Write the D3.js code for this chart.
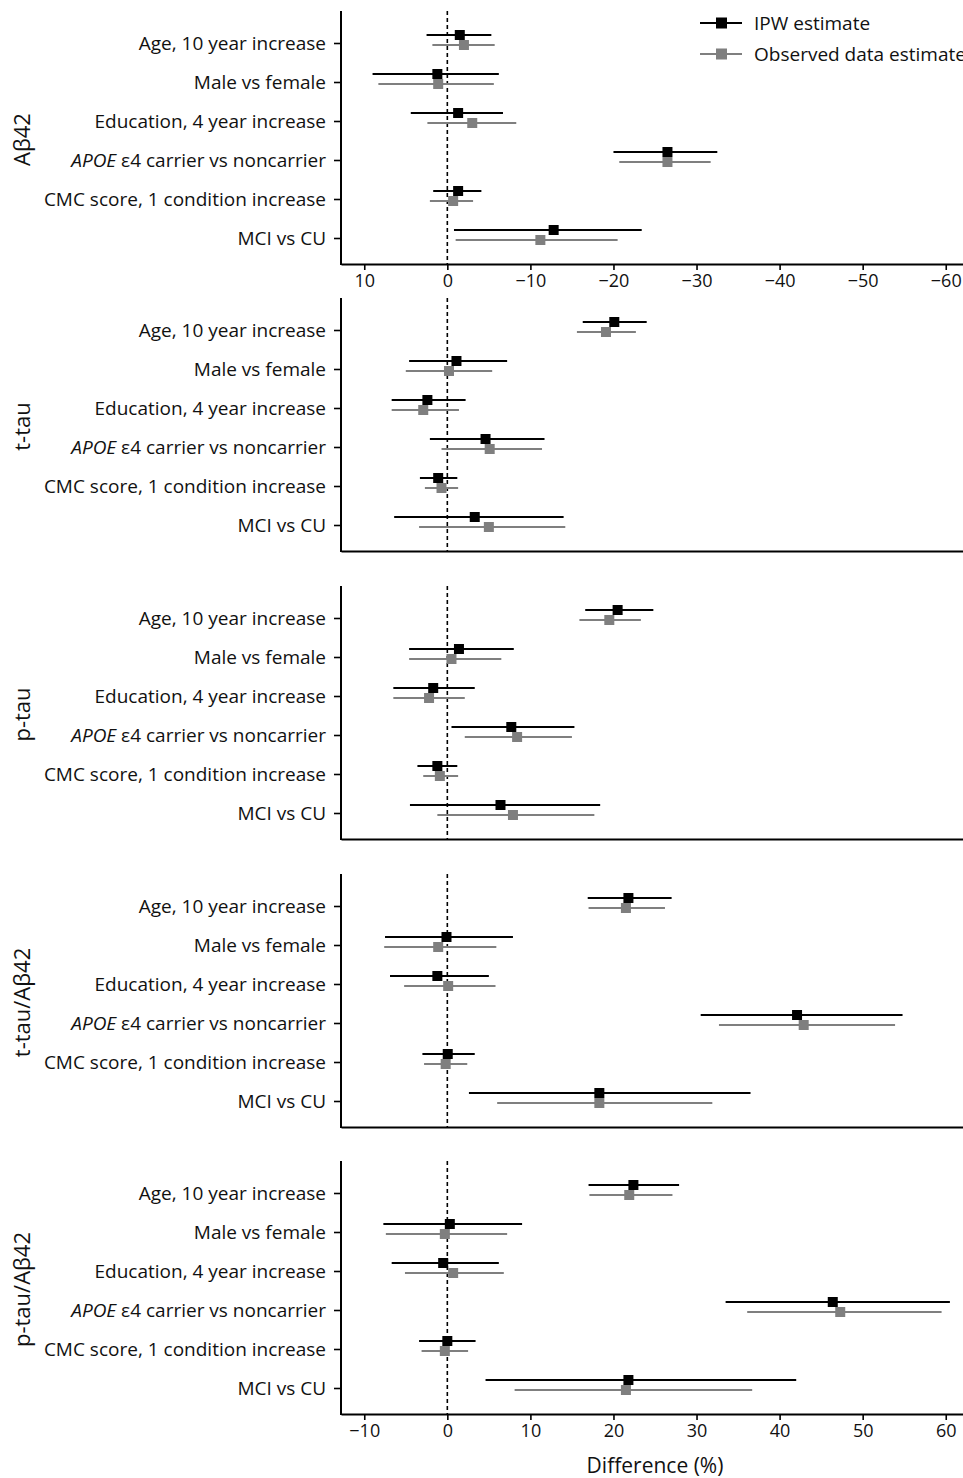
<!DOCTYPE html>
<html>
<head>
<meta charset="utf-8">
<script src="https://cdn.jsdelivr.net/npm/d3@7"></script>
<style>
  body { margin: 0; background: #fff; }
  text { font-family: "Open Sans", sans-serif; }
</style>
</head>
<body>
<div class="graph"></div>
<script>
// row labels, top to bottom
const categories = [
  "Age, 10 year increase",
  "Male vs female",
  "Education, 4 year increase",
  "APOE ε4 carrier vs noncarrier",
  "CMC score, 1 condition increase",
  "MCI vs CU"
];
const panelNames = ["Aβ42", "t-tau", "p-tau", "t-tau/Aβ42", "p-tau/Aβ42"];
const seriesNames = ["IPW estimate", "Observed data estimate"];

// [estimate, lower, upper] for each row
const ab42Ipw = [[-1.5, -5.3, 2.5], [1.2, -6.2, 9.0], [-1.3, -6.7, 4.4], [-26.5, -32.5, -20.0], [-1.3, -4.1, 1.7], [-12.8, -23.4, -0.8]];
const ab42Obs = [[-2.0, -5.7, 1.8], [1.1, -5.6, 8.3], [-3.0, -8.3, 2.4], [-26.5, -31.7, -20.7], [-0.7, -3.1, 2.1], [-11.2, -20.5, -1.0]];

const ttauIpw = [[20.1, 16.3, 24.0], [1.1, -4.6, 7.2], [-2.4, -6.7, 2.2], [4.6, -2.1, 11.7], [-1.1, -3.3, 1.2], [3.3, -6.4, 14.0]];
const ttauObs = [[19.1, 15.6, 22.7], [0.2, -5.0, 5.4], [-2.9, -6.7, 1.4], [5.1, -0.7, 11.4], [-0.7, -2.7, 1.3], [5.0, -3.4, 14.2]];

const ptauIpw = [[20.5, 16.6, 24.8], [1.4, -4.6, 8.0], [-1.7, -6.5, 3.3], [7.7, 0.5, 15.3], [-1.2, -3.6, 1.2], [6.4, -4.5, 18.4]];
const ptauObs = [[19.5, 15.9, 23.3], [0.5, -4.6, 6.5], [-2.2, -6.5, 2.1], [8.4, 2.1, 15.0], [-0.9, -2.9, 1.3], [7.9, -1.2, 17.7]];

const ttauAbIpw = [[21.8, 16.9, 27.0], [-0.1, -7.5, 7.9], [-1.2, -6.9, 5.0], [42.1, 30.5, 54.8], [0.05, -3.0, 3.3], [18.3, 2.6, 36.5]];
const ttauAbObs = [[21.5, 17.0, 26.2], [-1.1, -7.6, 5.9], [0.1, -5.2, 5.8], [42.9, 32.7, 53.9], [-0.2, -2.8, 2.4], [18.3, 6.0, 31.9]];

const ptauAbIpw = [[22.4, 17.0, 27.9], [0.3, -7.7, 9.0], [-0.5, -6.7, 6.2], [46.4, 33.5, 60.5], [0.0, -3.4, 3.4], [21.8, 4.6, 42.0]];
const ptauAbObs = [[21.9, 17.1, 27.1], [-0.3, -7.4, 7.2], [0.7, -5.1, 6.8], [47.3, 36.1, 59.5], [-0.3, -3.1, 2.5], [21.5, 8.1, 36.7]];

// tick labels: top panel (reversed) and bottom panel
const topTicks = [10, 0, -10, -20, -30, -40, -50, -60];
const bottomTicks = [-10, 0, 10, 20, 30, 40, 50, 60];

const panels = [
  { name: panelNames[0], ipw: ab42Ipw, obs: ab42Obs },
  { name: panelNames[1], ipw: ttauIpw, obs: ttauObs },
  { name: panelNames[2], ipw: ptauIpw, obs: ptauObs },
  { name: panelNames[3], ipw: ttauAbIpw, obs: ttauAbObs },
  { name: panelNames[4], ipw: ptauAbIpw, obs: ptauAbObs }
];

const width = 963, height = 1478;
const left = 341, right = 969;
const panelTops = [11, 298, 586, 874, 1161];
const panelH = 253;
const colors = ["#000000", "#7f7f7f"];

const svg = d3.select(".graph").append("svg")
  .attr("width", width)
  .attr("height", height);

// x scales: top panel runs reversed
const xNormal = d3.scaleLinear().domain([-12.8, 62.8]).range([left, right]);
const xReversed = d3.scaleLinear().domain([12.8, -62.8]).range([left, right]);

panels.forEach(function(p, i) {
  const top = panelTops[i];
  const bottom = top + panelH;
  const x = i === 0 ? xReversed : xNormal;
  const y = d3.scalePoint().domain(categories).range([top + 32, top + 227]);

  const g = svg.append("g");

  // zero reference line
  g.append("line")
    .attr("x1", x(0)).attr("x2", x(0))
    .attr("y1", top).attr("y2", bottom)
    .attr("stroke", "#000")
    .attr("stroke-width", 1.6)
    .attr("stroke-dasharray", "4,3");

  // y axis
  const yAxis = g.append("g")
    .attr("transform", "translate(" + left + ",0)")
    .call(d3.axisLeft(y).tickSize(7).tickPadding(8).tickSizeOuter(0));
  yAxis.select(".domain").remove();
  yAxis.selectAll(".tick line").attr("stroke", "#000").attr("stroke-width", 1.6);
  yAxis.selectAll(".tick text")
    .attr("font-size", 19)
    .attr("fill", "#111")
    .attr("font-family", "Open Sans, sans-serif")
    .each(function(d) {
      if (d.indexOf("APOE") === 0) {
        const t = d3.select(this).text("");
        t.append("tspan").attr("font-style", "italic").text("APOE");
        t.append("tspan").text(d.slice(4));
      }
    });

  g.append("line")
    .attr("x1", left).attr("x2", left)
    .attr("y1", top).attr("y2", bottom + 1)
    .attr("stroke", "#000")
    .attr("stroke-width", 2);

  // x axis, labelled only on the first and last panel
  let ticks = [];
  if (i === 0) ticks = topTicks;
  if (i === panels.length - 1) ticks = bottomTicks;
  const xAxis = g.append("g")
    .attr("transform", "translate(0," + bottom + ")")
    .call(d3.axisBottom(x)
      .tickValues(ticks)
      .tickSize(6).tickPadding(4).tickSizeOuter(0)
      .tickFormat(d3.format("d")));
  xAxis.select(".domain").attr("stroke", "#000").attr("stroke-width", 2);
  xAxis.selectAll(".tick line").attr("stroke", "#000").attr("stroke-width", 1.6);
  xAxis.selectAll(".tick text")
    .attr("font-size", 18)
    .attr("fill", "#111")
    .attr("font-family", "Open Sans, sans-serif");

  // panel title on the left
  g.append("text")
    .attr("transform", "translate(30," + (top + panelH / 2 + 2) + ") rotate(-90)")
    .attr("text-anchor", "middle")
    .attr("font-size", 22)
    .attr("fill", "#111")
    .text(p.name);

  // two series, IPW above the row, observed just below
  [p.ipw, p.obs].forEach(function(series, s) {
    const off = s === 0 ? -8 : 2;
    const rows = g.append("g").selectAll("g")
      .data(series)
      .enter().append("g");

    rows.append("line")
      .attr("x1", function(d) { return x(d[1]); })
      .attr("x2", function(d) { return x(d[2]); })
      .attr("y1", function(d, j) { return y(categories[j]) + off; })
      .attr("y2", function(d, j) { return y(categories[j]) + off; })
      .attr("stroke", colors[s])
      .attr("stroke-width", 2);

    rows.append("rect")
      .attr("x", function(d) { return x(d[0]) - 5; })
      .attr("y", function(d, j) { return y(categories[j]) + off - 5; })
      .attr("width", 10)
      .attr("height", 10)
      .attr("fill", colors[s]);
  });
});

// x axis title
svg.append("text")
  .attr("x", (left + right) / 2)
  .attr("y", 1473)
  .attr("text-anchor", "middle")
  .attr("font-size", 21)
  .attr("fill", "#111")
  .text("Difference (%)");

// legend
const legend = svg.append("g");
seriesNames.forEach(function(name, s) {
  const ly = 23 + s * 31;
  legend.append("line")
    .attr("x1", 700).attr("x2", 742)
    .attr("y1", ly).attr("y2", ly)
    .attr("stroke", colors[s]).attr("stroke-width", 2);
  legend.append("rect")
    .attr("x", 716).attr("y", ly - 5.5)
    .attr("width", 11).attr("height", 11)
    .attr("fill", colors[s]);
  legend.append("text")
    .attr("x", 754).attr("y", ly)
    .attr("dy", "0.35em")
    .attr("font-size", 19)
    .attr("fill", "#111")
    .text(name);
});
</script>
</body>
</html>
